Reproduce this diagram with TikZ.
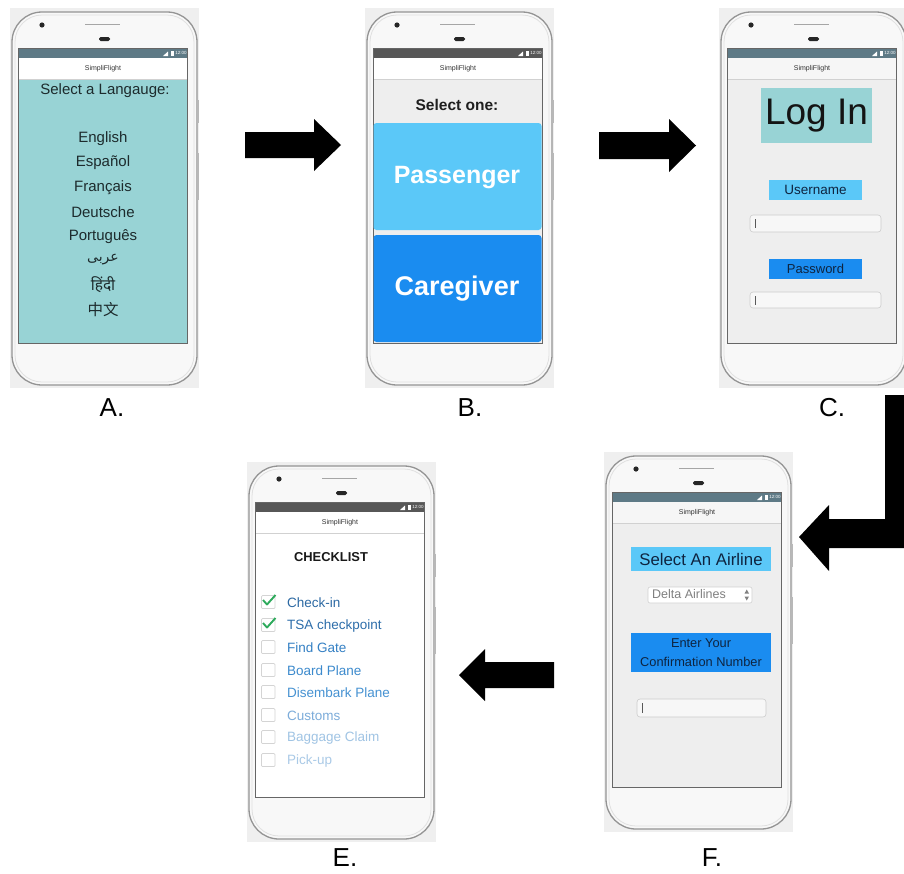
\documentclass[tikz,border=0pt]{standalone}
\usepackage{fontspec}
\setmainfont{Liberation Sans}
\newfontfamily\arabicfont[Script=Arabic]{DejaVu Sans}
\newfontfamily\devafont[Script=Devanagari]{Noto Sans}
\newfontfamily\cjkfont{Noto Sans CJK SC}
\TeXXeTstate=1

\definecolor{slatebar}{HTML}{5E7A86}
\definecolor{darkbar}{HTML}{575757}
\definecolor{tealbg}{HTML}{98D3D5}
\definecolor{skyblue}{HTML}{5BC8F8}
\definecolor{deepblue}{HTML}{1A8CF0}
\definecolor{screengrey}{HTML}{EEEEEE}
\definecolor{appgrey}{HTML}{F6F6F6}
\definecolor{phonebg}{HTML}{EFEFEF}
\definecolor{phonebody}{HTML}{F8F8F8}
\definecolor{inktext}{HTML}{1D2B2D}
\definecolor{navytext}{HTML}{0E2440}
\definecolor{checkgreen}{HTML}{2EAA5C}

\tikzset{
  edgeline/.style={draw=black!42, line width=1.3},
  innerline/.style={draw=black!12, line width=0.8},
  screenedge/.style={draw=black!60, line width=0.7},
  appbartitle/.style={font=\fontsize{7}{8}\selectfont, text=black!80, inner sep=0},
  statustime/.style={font=\fontsize{4.5}{5}\selectfont, text=white, inner sep=0},
  bigtext/.style={font=\fontsize{15}{17}\selectfont, text=inktext, inner sep=0},
  stepletter/.style={font=\fontsize{26}{28}\selectfont, inner sep=0},
  infield/.style={fill=black!3, draw=black!20, line width=0.6, rounded corners=3},
  cursor/.style={draw=black!65, line width=0.7},
  listitem/.style={font=\fontsize{13.5}{15}\selectfont, anchor=west, inner sep=0},
  tickbox/.style={draw=black!17, line width=0.7, rounded corners=1},
  tick/.style={draw=checkgreen, line width=1.9, line join=round},
  blockarrow/.style={fill=black},
}

% phone frame: #1 name, #2,#3 top-left corner of the screen,
% #4 status bar colour, #5 app bar colour, #6 content colour
\newcommand\drawphone[6]{%
  \fill[phonebg] ({#2-8},{#3-40}) rectangle ({#2+181},{#3+340});
  \draw[edgeline, fill=phonebody, rounded corners=30] ({#2-6},{#3-36}) rectangle ({#2+179},{#3+337});
  \draw[innerline, rounded corners=27] ({#2-3},{#3-33}) rectangle ({#2+176},{#3+334});
  \draw[black!28, line width=1.2] ({#2+180},{#3+52}) -- ({#2+180},{#3+75});
  \draw[black!28, line width=1.2] ({#2+180},{#3+105}) -- ({#2+180},{#3+152});
  \fill[black!85] ({#2+24},{#3-23}) circle (2.6);
  \draw[black!35, line width=0.9] ({#2+67},{#3-24}) -- ({#2+102},{#3-24});
  \fill[black!85, rounded corners=1.6] ({#2+81},{#3-11}) rectangle ({#2+92},{#3-7});
  \fill[#6] (#2,{#3+31}) rectangle ({#2+169},{#3+295});
  \fill[#4] (#2,#3) rectangle ({#2+169},{#3+10});
  \fill[#5] (#2,{#3+10}) rectangle ({#2+169},{#3+31});
  \draw[black!18, line width=0.5] (#2,{#3+31}) -- ({#2+169},{#3+31});
  \draw[screenedge] (#2,#3) rectangle ({#2+169},{#3+295});
  \fill[white] ({#2+145},{#3+8}) -- ({#2+150},{#3+8}) -- ({#2+150},{#3+3.5}) -- cycle;
  \fill[white] ({#2+153},{#3+2.5}) rectangle ({#2+155.5},{#3+8});
  \node[statustime] (#1-time) at ({#2+163},{#3+5.3}) {12:00};
  \node[appbartitle] (#1-title) at ({#2+85},{#3+21}) {SimpliFlight};
}

\begin{document}
\begin{tikzpicture}[x=1pt, y=-1pt]
\useasboundingbox (0,0) rectangle (904,873);
\fill[white] (0,0) rectangle (904,873);

% ---------- A: language selection ----------
\drawphone{pa}{18}{48}{slatebar}{white}{tealbg}
\node[bigtext] (pa-head) at (105,91) {Select a Langauge:};
\node[bigtext] (pa-en) at (103,139) {English};
\node[bigtext] (pa-es) at (103,163) {Español};
\node[bigtext] (pa-fr) at (103,188) {Français};
\node[bigtext] (pa-de) at (103,212) {Deutsche};
\node[bigtext] (pa-pt) at (103,237) {Português};
\node[bigtext, font=\arabicfont\fontsize{14}{16}\selectfont] (pa-ar) at (103,260) {\beginR عربى\endR};
\node[bigtext, font=\devafont\fontsize{15.5}{17}\selectfont] (pa-hi) at (103,285) {हिंदी};
\node[bigtext, font=\cjkfont\fontsize{15.5}{17}\selectfont] (pa-zh) at (103,310) {中文};
\node[stepletter] (la) at (112,408) {A.};

% ---------- B: role selection ----------
\drawphone{pb}{373}{48}{darkbar}{white}{screengrey}
\node[font=\bfseries\fontsize{15.5}{17}\selectfont, text=black!88, inner sep=0] (pb-head) at (457,105) {Select one:};
\fill[skyblue, rounded corners=3] (373.5,123) rectangle (541.5,230);
\fill[deepblue, rounded corners=3] (373.5,235) rectangle (541.5,342);
\node[font=\bfseries\fontsize{25}{28}\selectfont, text=white, inner sep=0] (pb-pass) at (457,178) {Passenger};
\node[font=\bfseries\fontsize{27}{30}\selectfont, text=white, inner sep=0] (pb-care) at (457,289) {Caregiver};
\node[stepletter] (lb) at (470,408) {B.};

% ---------- C: log in ----------
\drawphone{pc}{727}{48}{slatebar}{appgrey}{screengrey}
\fill[tealbg] (761,88) rectangle (872,143);
\node[font=\fontsize{37}{40}\selectfont, text=black!92, inner sep=0] (pc-login) at (816.5,116) {Log In};
\fill[skyblue] (769,180) rectangle (862,200);
\node[font=\fontsize{13.5}{15}\selectfont, text=navytext, inner sep=0] (pc-user) at (815.5,190) {Username};
\draw[infield] (750,215) rectangle (881,232);
\draw[cursor] (755.5,219) -- (755.5,228);
\fill[deepblue] (769,259) rectangle (862,279);
\node[font=\fontsize{13}{15}\selectfont, text=navytext, inner sep=0] (pc-pass) at (815.5,269) {Password};
\draw[infield] (750,292) rectangle (881,308);
\draw[cursor] (755.5,296) -- (755.5,305);
\node[stepletter] (lc) at (832,408) {C.};

% ---------- F: airline ----------
\drawphone{pf}{612}{492}{slatebar}{appgrey}{screengrey}
\fill[skyblue] (631,547) rectangle (771,571);
\node[font=\fontsize{16.8}{19}\selectfont, text=navytext, inner sep=0] (pf-air) at (701,559) {Select An Airline};
\draw[fill=white, draw=black!18, line width=0.6, rounded corners=2] (648,587) rectangle (752,603);
\node[font=\fontsize{12.5}{14}\selectfont, text=black!50, anchor=west, inner sep=0] (pf-delta) at (652,594.5) {Delta Airlines};
\fill[black!50] (744.5,593.5) -- (749,593.5) -- (746.75,589.5) -- cycle;
\fill[black!50] (744.5,596.5) -- (749,596.5) -- (746.75,600.5) -- cycle;
\fill[deepblue] (631,633) rectangle (771,672);
\node[font=\fontsize{12.8}{19}\selectfont, text=navytext, inner sep=0, align=center] (pf-conf) at (701,653) {Enter Your\\Confirmation Number};
\draw[infield] (637,699) rectangle (766,717);
\draw[cursor] (642.5,703) -- (642.5,713);
\node[stepletter] (lf) at (712,858) {F.};

% ---------- E: checklist ----------
\drawphone{pe}{255}{502}{darkbar}{white}{white}
\node[font=\bfseries\fontsize{12.9}{15}\selectfont, text=black!90, inner sep=0] (pe-head) at (331,557) {CHECKLIST};
\foreach \yy in {602,625,647,670,692,715,737,760}
  \draw[tickbox] (261.5,{\yy-6.5}) rectangle (275,{\yy+6.5});
\draw[tick] (263,600) -- (267,604.5) -- (275.5,595);
\draw[tick] (263,623) -- (267,627.5) -- (275.5,618);
\node[listitem, text={rgb,255:red,44;green,105;blue,163}] (pe-i1) at (287,603) {Check-in};
\node[listitem, text={rgb,255:red,46;green,110;blue,170}] (pe-i2) at (287,626) {TSA checkpoint};
\node[listitem, text={rgb,255:red,52;green,128;blue,196}] (pe-i3) at (287,648) {Find Gate};
\node[listitem, text={rgb,255:red,60;green,138;blue,205}] (pe-i4) at (287,671) {Board Plane};
\node[listitem, text={rgb,255:red,70;green,146;blue,210}] (pe-i5) at (287,693) {Disembark Plane};
\node[listitem, text={rgb,255:red,124;green,172;blue,218}] (pe-i6) at (287,716) {Customs};
\node[listitem, text={rgb,255:red,160;green,196;blue,228}] (pe-i7) at (287,738) {Baggage Claim};
\node[listitem, text={rgb,255:red,170;green,202;blue,231}] (pe-i8) at (287,761) {Pick-up};
\node[stepletter] (le) at (345,858) {E.};

% ---------- flow arrows ----------
\fill[blockarrow] (245,132) -- (314,132) -- (314,119) -- (341,145) -- (314,171) -- (314,158) -- (245,158) -- cycle;
\fill[blockarrow] (599,132) -- (669,132) -- (669,119) -- (696,145.5) -- (669,172) -- (669,159) -- (599,159) -- cycle;
\fill[blockarrow] (885,395) -- (904,395) -- (904,548) -- (829,548) -- (829,571) -- (799,537) -- (829,505) -- (829,519) -- (885,519) -- cycle;
\fill[blockarrow] (554,662) -- (485,662) -- (485,649) -- (459,675) -- (485,701) -- (485,688) -- (554,688) -- cycle;
\end{tikzpicture}
\end{document}
